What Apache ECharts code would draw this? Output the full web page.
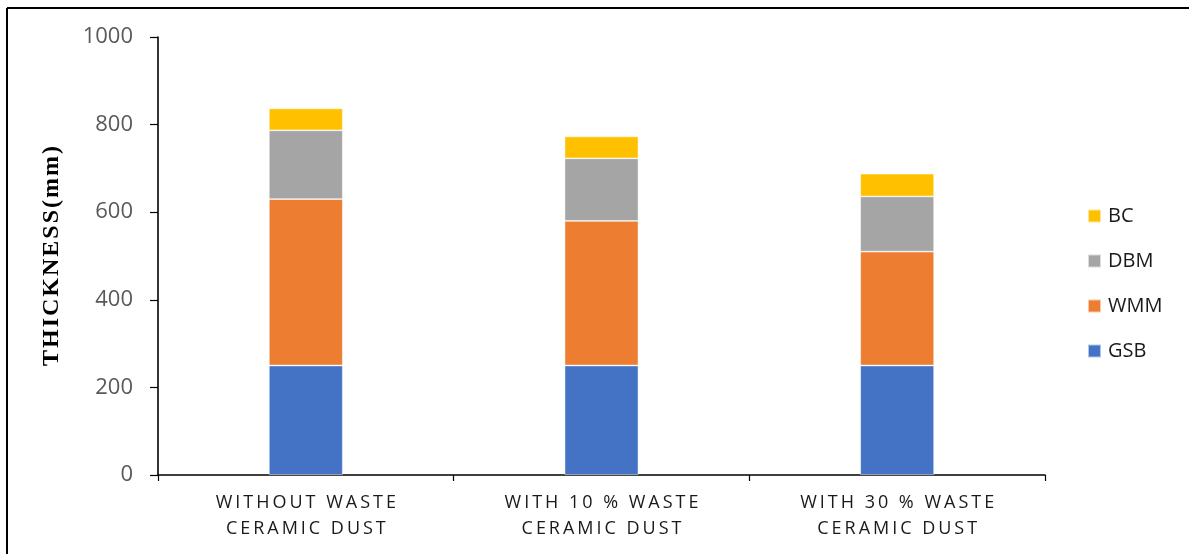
<!DOCTYPE html>
<html>
<head>
<meta charset="utf-8">
<style>
  html, body { margin: 0; padding: 0; background: #fff; }
  #chart { width: 1189px; height: 554px; }
</style>
<script src="https://cdn.jsdelivr.net/npm/echarts@6/dist/echarts.min.js"></script>
</head>
<body>
<div id="chart"></div>
<script>
// Pavement layer thicknesses (mm) for each mix
const categories = [
  'WITHOUT WASTE\nCERAMIC DUST',
  'WITH 10 % WASTE\nCERAMIC DUST',
  'WITH 30 % WASTE\nCERAMIC DUST'
];
const gsb = [250, 250, 250];
const wmm = [380, 330, 260];
const dbm = [157, 143, 126];
const bc  = [50, 50, 52];
const yTicks = [0, 200, 400, 600, 800, 1000];
const yTitle = 'THICKNESS(mm)';

// Spread letters apart with a given spacer character
function spaced(s, gap) {
  return s.split('\n').map(line => line.split('').join(gap)).join('\n');
}

const chart = echarts.init(document.getElementById('chart'), null, { renderer: 'canvas' });

const layer = (name, data, color) => ({
  name: name,
  type: 'bar',
  stack: 'total',
  data: data,
  barWidth: '25%',
  itemStyle: { color: color, borderColor: 'rgba(255,255,255,0.6)', borderWidth: 0.8 }
});

chart.setOption({
  animation: false,
  backgroundColor: '#fff',
  grid: { left: 158, right: 144, top: 37, bottom: 79, containLabel: false },
  legend: {
    orient: 'vertical',
    left: 1087,
    top: 206,
    padding: 0,
    itemWidth: 13,
    itemHeight: 13,
    itemGap: 25,
    icon: 'rect',
    data: ['BC', 'DBM', 'WMM', 'GSB'],
    textStyle: { fontFamily: 'Open Sans', fontSize: 20, lineHeight: 20, color: '#1a1a1a', padding: [0, 0, 0, 2] }
  },
  xAxis: {
    type: 'category',
    data: categories,
    axisLine: { lineStyle: { color: '#000', width: 1.6 } },
    axisTick: { show: true, length: 6, lineStyle: { color: '#000', width: 1.2 } },
    axisLabel: {
      margin: 15,
      fontFamily: 'Open Sans',
      fontSize: 18,
      lineHeight: 26,
      color: '#1a1a1a',
      formatter: v => spaced(v, '\u2009')
    }
  },
  yAxis: {
    type: 'value',
    min: yTicks[0],
    max: yTicks[yTicks.length - 1],
    interval: 200,
    name: spaced(yTitle, '\u200A'),
    nameLocation: 'middle',
    nameGap: 94,
    nameTextStyle: { fontFamily: 'Liberation Serif', fontWeight: 'bold', fontSize: 24, color: '#000' },
    axisLine: { show: true, lineStyle: { color: '#000', width: 1.6 } },
    axisTick: { show: true, length: 8, lineStyle: { color: '#000', width: 1.2 } },
    splitLine: { show: false },
    axisLabel: {
      margin: 25, fontFamily: 'Open Sans', fontSize: 22, color: '#595959',
      formatter: v => String(v)
    }
  },
  series: [
    layer('GSB', gsb, '#4472C4'),
    layer('WMM', wmm, '#ED7D31'),
    layer('DBM', dbm, '#A5A5A5'),
    layer('BC', bc, '#FFC000')
  ],
  graphic: [
    { type: 'line', shape: { x1: 7, y1: 8, x2: 1189, y2: 8 }, style: { stroke: '#000', lineWidth: 2 } },
    { type: 'line', shape: { x1: 7, y1: 8, x2: 7, y2: 554 }, style: { stroke: '#000', lineWidth: 2 } }
  ]
});
</script>
</body>
</html>
